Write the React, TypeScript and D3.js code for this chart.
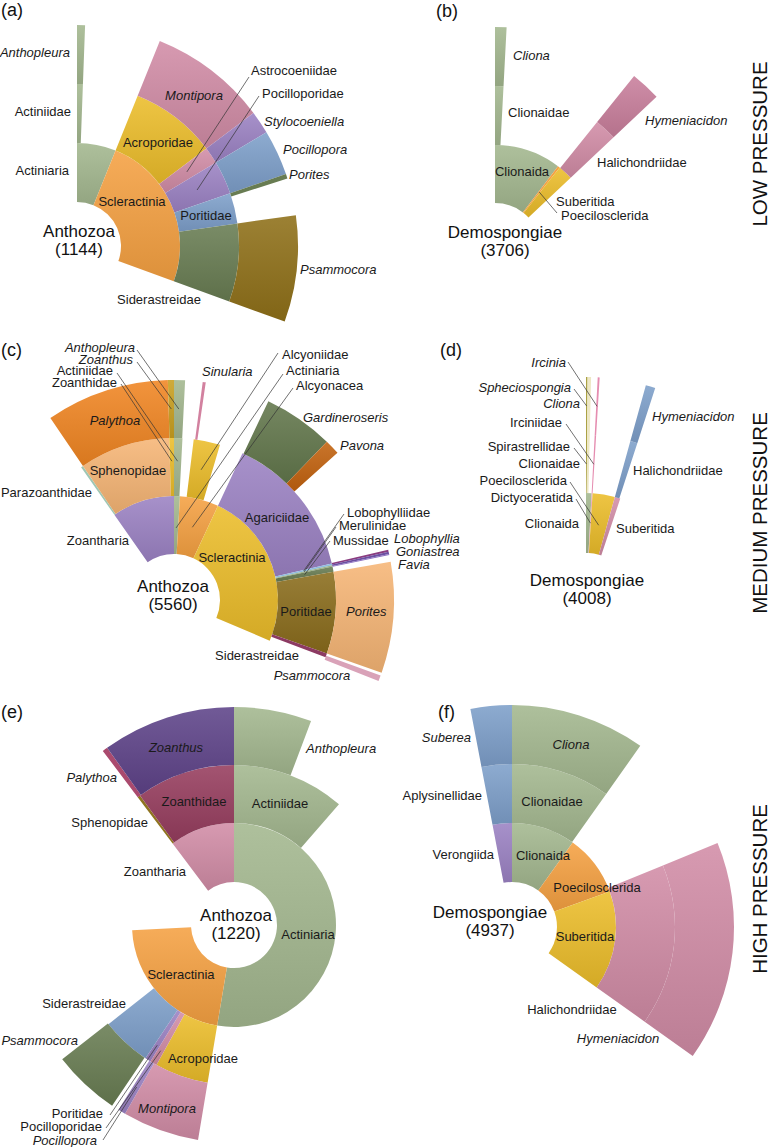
import React from "react";
import * as d3 from "d3";

type Entry = [string, number];

// Values: angular share of each taxon (degrees of sweep).
// Blank names are unclassified remainders (not drawn).

// (a) LOW PRESSURE – Anthozoa
const aRoot: [string, number] = ["Anthozoa", 1144];
const aOrders: Entry[] = [["Actiniaria", 22], ["Scleractinia", 88]];
const aFamilies: Entry[] = [["Actiniidae", 2.1], ["", 19.9], ["Acroporidae", 31], ["Astrocoeniidae", 6], ["Pocilloporidae", 12], ["Poritidae", 11], ["Siderastreidae", 28]];
const aGenera: Entry[] = [["Anthopleura", 2.1], ["", 19.9], ["Montipora", 31], ["Stylocoeniella", 6], ["Pocillopora", 12], ["Porites", 1.2], ["", 9.8], ["Psammocora", 28]];

// (b) LOW PRESSURE – Demospongiae
const bRoot: [string, number] = ["Demospongiae", 3706];
const bOrders: Entry[] = [["Clionaida", 37.3], ["Poecilosclerida", 1.2], ["Suberitida", 8.2]];
const bFamilies: Entry[] = [["Clionaidae", 3], ["", 35.8], ["Halichondriidae", 7.9]];
const bGenera: Entry[] = [["Cliona", 3], ["", 35.8], ["Hymeniacidon", 7.9]];

// (c) MEDIUM PRESSURE – Anthozoa
const cRoot: [string, number] = ["Anthozoa", 5560];
const cOrders: Entry[] = [["Zoantharia", 35], ["Actiniaria", 3.3], ["Alcyonacea", 21.7], ["Scleractinia", 88]];
const cFamilies: Entry[] = [["Parazoanthidae", 0.8], ["Sphenopidae", 32.5], ["Zoanthidae", 1.7], ["Actiniidae", 3], ["", 4], ["Alcyoniidae", 9.5], ["", 8.5], ["Agariciidae", 52], ["Lobophylliidae", 0.6], ["Merulinidae", 0.5], ["Mussidae", 1.9], ["Poritidae", 29.3], ["Siderastreidae", 1.4]];
const cGenera: Entry[] = [["", 0.8], ["Palythoa", 32.6], ["Zoanthus", 1.6], ["Anthopleura", 2.9], ["", 4.6], ["Sinularia", 0.8], ["", 17.1], ["Gardineroseris", 18.6], ["Pavona", 4], ["", 28.8], ["Lobophyllia", 0.5], ["Goniastrea", 0.6], ["Favia", 0.3], ["", 1.8], ["Porites", 29.3], ["", 0.8], ["Psammocora", 1.5]];

// (d) MEDIUM PRESSURE – Demospongiae
const dRoot: [string, number] = ["Demospongiae", 4008];
const dOrders: Entry[] = [["Clionaida", 3], ["Dictyoceratida", 0.5], ["Poecilosclerida", 12], ["Suberitida", 3]];
const dFamilies: Entry[] = [["Spirastrellidae", 0.4], ["Clionaidae", 0.9], ["", 1.7], ["Irciniidae", 0.5], ["", 12], ["Halichondriidae", 2.5]];
const dGenera: Entry[] = [["Spheciospongia", 0.4], ["Cliona", 0.9], ["", 1.7], ["Ircinia", 0.5], ["", 12], ["Hymeniacidon", 2.5]];

// (e) HIGH PRESSURE – Anthozoa
const eRoot: [string, number] = ["Anthozoa", 1220];
const eOrders: Entry[] = [["Zoantharia", 37], ["Actiniaria", 189.5], ["Scleractinia", 77.5]];
const eFamilies: Entry[] = [["Sphenopidae", 1], ["Zoanthidae", 36], ["Actiniidae", 41], ["", 148.5], ["Acroporidae", 19.5], ["Pocilloporidae", 2.5], ["Poritidae", 2.1], ["Siderastreidae", 18.1]];
const eGenera: Entry[] = [["Palythoa", 1.4], ["Zoanthus", 35.6], ["Anthopleura", 20.7], ["", 168.8], ["Montipora", 20.5], ["Pocillopora", 2], ["", 2], ["Psammocora", 18]];

// (f) HIGH PRESSURE – Demospongiae
const fRoot: [string, number] = ["Demospongiae", 4937];
const fOrders: Entry[] = [["Verongiida", 10.8], ["Clionaida", 35.7], ["Poecilosclerida", 34.3], ["Suberitida", 55.5]];
const fFamilies: Entry[] = [["Aplysinellidae", 10.8], ["Clionaidae", 35.3], ["", 32.5], ["Halichondriidae", 57.7]];
const fGenera: Entry[] = [["Suberea", 10.8], ["Cliona", 35.3], ["", 32.5], ["Hymeniacidon", 57.7]];

const pressureLabels = ["LOW PRESSURE", "MEDIUM PRESSURE", "HIGH PRESSURE"];

// ---------------- styles / layout ----------------
const GREEN = "#a3b78f", ORANGE = "#f5a142", YELLOW = "#ecbd2a", PINK = "#d18ca6",
  PURPLE = "#9b82c3", BLUE = "#7e9fca", DKGREEN = "#687c52", BROWN = "#8f7018";

const FONT = "'Liberation Sans', Arial, Helvetica, sans-serif";

type Lab = { t: string; x: number; y: number; a: "start" | "middle" | "end"; lx?: number; ly?: number; f?: number };

const panels = [
  {
    id: "a", tag: "(a)", tagX: 1, tagY: 10, cx: 77, cy: 246, radii: [44, 103, 162, 221], start: 0,
    root: aRoot, rings: [aOrders, aFamilies, aGenera], rootPos: [79, 231],
    colors: { Actiniaria: GREEN, Scleractinia: ORANGE, Actiniidae: GREEN, Acroporidae: YELLOW, Astrocoeniidae: PINK, Pocilloporidae: PURPLE, Poritidae: BLUE, Siderastreidae: DKGREEN, Anthopleura: GREEN, Montipora: PINK, Stylocoeniella: PURPLE, Pocillopora: BLUE, Porites: DKGREEN, Psammocora: BROWN } as Record<string, string>,
    labels: [
      { t: "Anthopleura", x: 70, y: 52, a: "end" }, { t: "Actiniidae", x: 71, y: 111, a: "end" },
      { t: "Actiniaria", x: 69, y: 170, a: "end" }, { t: "Montipora", x: 194, y: 95, a: "middle" },
      { t: "Acroporidae", x: 158, y: 142, a: "middle" }, { t: "Scleractinia", x: 132, y: 201, a: "middle" },
      { t: "Astrocoeniidae", x: 251, y: 70, a: "start", lx: 249, ly: 77, f: 0.5 },
      { t: "Pocilloporidae", x: 262, y: 93, a: "start", lx: 259, ly: 96, f: 0.5 },
      { t: "Stylocoeniella", x: 264, y: 121, a: "start" }, { t: "Pocillopora", x: 283, y: 149, a: "start" },
      { t: "Porites", x: 289, y: 174, a: "start" }, { t: "Poritidae", x: 206, y: 215, a: "middle" },
      { t: "Psammocora", x: 300, y: 269, a: "start" }, { t: "Siderastreidae", x: 159, y: 299, a: "middle" },
    ] as Lab[],
  },
  {
    id: "b", tag: "(b)", tagX: 436, tagY: 11, cx: 495, cy: 249, radii: [46, 104, 163, 222], start: 0,
    root: bRoot, rings: [bOrders, bFamilies, bGenera], rootPos: [505, 232],
    colors: { Clionaida: GREEN, Poecilosclerida: ORANGE, Suberitida: YELLOW, Clionaidae: GREEN, Halichondriidae: PINK, Cliona: GREEN, Hymeniacidon: "#c97f9c" } as Record<string, string>,
    labels: [
      { t: "Cliona", x: 513, y: 55, a: "start" }, { t: "Clionaidae", x: 508, y: 112, a: "start" },
      { t: "Hymeniacidon", x: 645, y: 120, a: "start" }, { t: "Halichondriidae", x: 597, y: 162, a: "start" },
      { t: "Clionaida", x: 522, y: 171, a: "middle" }, { t: "Suberitida", x: 556, y: 201, a: "start" },
      { t: "Poecilosclerida", x: 561, y: 215, a: "start", lx: 557, ly: 213, f: 0.45 },
    ] as Lab[],
  },
  {
    id: "c", tag: "(c)", tagX: 1, tagY: 350, cx: 174, cy: 600, radii: [46, 104, 162, 220], start: -35,
    root: cRoot, rings: [cOrders, cFamilies, cGenera], rootPos: [173, 586],
    colors: { Zoantharia: PURPLE, Actiniaria: GREEN, Alcyonacea: ORANGE, Scleractinia: YELLOW, Parazoanthidae: "#9fc7b4", Sphenopidae: "#f6b575", Zoanthidae: YELLOW, Actiniidae: GREEN, Alcyoniidae: YELLOW, Agariciidae: PURPLE, Lobophylliidae: "#8fbbe0", Merulinidae: "#9cb58a", Mussidae: DKGREEN, Poritidae: "#8a6c1c", Siderastreidae: "#8c3a62", Palythoa: "#f08522", Zoanthus: "#c9a020", Anthopleura: GREEN, Sinularia: "#d2819f", Gardineroseris: "#62774c", Pavona: "#c2620e", Lobophyllia: "#8a3c80", Goniastrea: "#6c50a2", Favia: "#8b6fc0", Porites: "#f6b575", Psammocora: "#d9a2b8" } as Record<string, string>,
    labels: [
      { t: "Anthopleura", x: 135, y: 347, a: "end", lx: 137, ly: 350, f: 0.5 },
      { t: "Zoanthus", x: 133, y: 359.5, a: "end", lx: 137, ly: 362, f: 0.5 },
      { t: "Actiniidae", x: 113, y: 370, a: "end", lx: 117, ly: 373, f: 0.6 },
      { t: "Zoanthidae", x: 117, y: 382, a: "end", lx: 121, ly: 384, f: 0.6 },
      { t: "Sinularia", x: 202, y: 371, a: "start" },
      { t: "Alcyoniidae", x: 282, y: 354, a: "start", lx: 278, ly: 353, f: 0.5 },
      { t: "Actiniaria", x: 286, y: 370, a: "start", lx: 283, ly: 374, f: 0.45 },
      { t: "Alcyonacea", x: 296, y: 385, a: "start", lx: 293, ly: 388, f: 0.5 },
      { t: "Gardineroseris", x: 303, y: 417, a: "start" }, { t: "Pavona", x: 340, y: 445, a: "start" },
      { t: "Palythoa", x: 115, y: 420, a: "middle" }, { t: "Sphenopidae", x: 128, y: 470, a: "middle" },
      { t: "Parazoanthidae", x: 92, y: 492, a: "end" }, { t: "Zoantharia", x: 129, y: 540, a: "end" },
      { t: "Agariciidae", x: 277, y: 517, a: "middle" }, { t: "Scleractinia", x: 232, y: 557, a: "middle" },
      { t: "Lobophylliidae", x: 347, y: 512, a: "start", lx: 344, ly: 514, f: 0.5 },
      { t: "Merulinidae", x: 339, y: 525.5, a: "start", lx: 336, ly: 527, f: 0.5 },
      { t: "Mussidae", x: 333, y: 540, a: "start", lx: 330, ly: 541, f: 0.5 },
      { t: "Lobophyllia", x: 394, y: 538, a: "start" }, { t: "Goniastrea", x: 396, y: 551, a: "start" },
      { t: "Favia", x: 398, y: 564, a: "start" }, { t: "Poritidae", x: 306, y: 611, a: "middle" },
      { t: "Porites", x: 346, y: 611, a: "start" }, { t: "Siderastreidae", x: 257, y: 655, a: "middle" },
      { t: "Psammocora", x: 312, y: 675, a: "middle" },
    ] as Lab[],
  },
  {
    id: "d", tag: "(d)", tagX: 440, tagY: 350, cx: 586, cy: 601, radii: [48, 108, 166, 224], start: 0,
    root: dRoot, rings: [dOrders, dFamilies, dGenera], rootPos: [587, 580],
    colors: { Clionaida: GREEN, Dictyoceratida: "#e7a3bb", Poecilosclerida: YELLOW, Suberitida: PINK, Spirastrellidae: "#aba245", Clionaidae: "#ede7c4", Irciniidae: "#e58db0", Halichondriidae: BLUE, Spheciospongia: "#aba245", Cliona: "#ede7c4", Ircinia: "#e58db0", Hymeniacidon: BLUE } as Record<string, string>,
    labels: [
      { t: "Ircinia", x: 566, y: 362, a: "end", lx: 568, ly: 362, f: 0.5 },
      { t: "Spheciospongia", x: 571, y: 387, a: "end", lx: 574, ly: 389, f: 0.5 },
      { t: "Cliona", x: 580, y: 403, a: "end" },
      { t: "Irciniidae", x: 562, y: 422, a: "end", lx: 566, ly: 424, f: 0.5 },
      { t: "Spirastrellidae", x: 570, y: 446, a: "end", lx: 574, ly: 448, f: 0.5 },
      { t: "Clionaidae", x: 580, y: 463, a: "end" },
      { t: "Poecilosclerida", x: 567, y: 480, a: "end", lx: 570, ly: 482, f: 0.48 },
      { t: "Dictyoceratida", x: 573, y: 497, a: "end", lx: 576, ly: 499, f: 0.5 },
      { t: "Clionaida", x: 579, y: 523, a: "end" },
      { t: "Hymeniacidon", x: 652, y: 416, a: "start" }, { t: "Halichondriidae", x: 633, y: 470, a: "start" },
      { t: "Suberitida", x: 616, y: 528, a: "start" },
    ] as Lab[],
  },
  {
    id: "e", tag: "(e)", tagX: 1, tagY: 712, cx: 234, cy: 925, radii: [43, 102, 160, 218], start: -37,
    root: eRoot, rings: [eOrders, eFamilies, eGenera], rootPos: [236, 915],
    colors: { Zoantharia: PINK, Actiniaria: GREEN, Scleractinia: ORANGE, Sphenopidae: "#8f7420", Zoanthidae: "#963d5e", Actiniidae: GREEN, Acroporidae: YELLOW, Pocilloporidae: PINK, Poritidae: PURPLE, Siderastreidae: BLUE, Palythoa: "#aa4a6e", Zoanthus: "#5e4389", Anthopleura: GREEN, Montipora: PINK, Pocillopora: PURPLE, Psammocora: DKGREEN } as Record<string, string>,
    labels: [
      { t: "Zoanthus", x: 176, y: 747, a: "middle" }, { t: "Anthopleura", x: 306, y: 748, a: "start" },
      { t: "Palythoa", x: 117, y: 777, a: "end" }, { t: "Zoanthidae", x: 194, y: 801, a: "middle" },
      { t: "Actiniidae", x: 280, y: 803, a: "middle" }, { t: "Sphenopidae", x: 148, y: 822, a: "end" },
      { t: "Zoantharia", x: 186, y: 871, a: "end" }, { t: "Actiniaria", x: 308, y: 934, a: "middle" },
      { t: "Scleractinia", x: 181, y: 974, a: "middle" }, { t: "Siderastreidae", x: 126, y: 1003, a: "end" },
      { t: "Psammocora", x: 78, y: 1040, a: "end" }, { t: "Acroporidae", x: 203, y: 1058, a: "middle" },
      { t: "Montipora", x: 167, y: 1108, a: "middle" },
      { t: "Poritidae", x: 103, y: 1113, a: "end", lx: 110, ly: 1115, f: 0.7 },
      { t: "Pocilloporidae", x: 102, y: 1126.5, a: "end", lx: 106, ly: 1128, f: 0.75 },
      { t: "Pocillopora", x: 97, y: 1140, a: "end", lx: 103, ly: 1140, f: 0.5 },
    ] as Lab[],
  },
  {
    id: "f", tag: "(f)", tagX: 438, tagY: 712, cx: 512, cy: 927, radii: [45, 104, 163, 222], start: -10.8,
    root: fRoot, rings: [fOrders, fFamilies, fGenera], rootPos: [490, 912],
    colors: { Verongiida: PURPLE, Clionaida: GREEN, Poecilosclerida: ORANGE, Suberitida: YELLOW, Aplysinellidae: BLUE, Clionaidae: GREEN, Halichondriidae: PINK, Suberea: BLUE, Cliona: GREEN, Hymeniacidon: PINK } as Record<string, string>,
    labels: [
      { t: "Suberea", x: 471, y: 737, a: "end" }, { t: "Cliona", x: 571, y: 744, a: "middle" },
      { t: "Aplysinellidae", x: 482, y: 795, a: "end" }, { t: "Clionaidae", x: 552, y: 801, a: "middle" },
      { t: "Verongiida", x: 494, y: 854, a: "end" }, { t: "Clionaida", x: 543, y: 855, a: "middle" },
      { t: "Poecilosclerida", x: 597, y: 887, a: "middle" }, { t: "Suberitida", x: 585, y: 936, a: "middle" },
      { t: "Halichondriidae", x: 572, y: 1009, a: "middle" }, { t: "Hymeniacidon", x: 618, y: 1038, a: "middle" },
    ] as Lab[],
  },
];

const pressurePos = [144, 513, 889];

const gradId = (c: string) => "g" + c.replace("#", "");

function Panel({ p }: { p: (typeof panels)[number] }) {
  const ang = d3.scaleLinear().domain([0, 360]).range([0, 2 * Math.PI]);
  const rad = d3.scaleLinear().domain([0, 1, 2, 3]).range(p.radii);
  const arc = d3.arc<any>();
  type W = { name: string; depth: number; a0: number; a1: number };
  const wedges: W[] = [];
  p.rings.forEach((ring, depth) => {
    let a0 = p.start;
    ring.forEach(([name, v]) => {
      const a1 = a0 + v;
      if (name) wedges.push({ name, depth, a0, a1 });
      a0 = a1;
    });
  });
  const byName = new Map(wedges.map((w) => [w.name, w]));
  const polar = (deg: number, r: number) => [p.cx + r * Math.sin(ang(deg)), p.cy - r * Math.cos(ang(deg))];

  return (
    <g>
      <g transform={`translate(${p.cx},${p.cy})`}>
        {wedges.map((w) => {
          const c = p.colors[w.name] || "#999";
          const thin = w.a1 - w.a0 < 1.6;
          return (
            <path
              key={w.depth + w.name}
              d={arc({ innerRadius: rad(w.depth), outerRadius: rad(w.depth + 1), startAngle: ang(w.a0), endAngle: ang(w.a1) }) || ""}
              fill={thin ? c : `url(#${gradId(c)})`}
            />
          );
        })}
      </g>
      {p.labels.map((l) => {
        if (l.lx === undefined) return null;
        const w = byName.get(l.t);
        if (!w) return null;
        const [x2, y2] = polar((w.a0 + w.a1) / 2, rad(w.depth + (l.f ?? 0.5)));
        return <line key={"l" + l.t} x1={l.lx} y1={l.ly} x2={x2} y2={y2} stroke="#333" strokeWidth={0.7} />;
      })}
      {p.labels.map((l) => {
        const w = byName.get(l.t);
        const italic = w ? w.depth === 2 : false;
        return (
          <text key={"t" + l.t} x={l.x} y={l.y} textAnchor={l.a} dominantBaseline="central" fontSize={13}
            fontStyle={italic ? "italic" : "normal"} fill="#1a1a1a">{l.t}</text>
        );
      })}
      <text x={p.rootPos[0]} y={p.rootPos[1]} textAnchor="middle" dominantBaseline="central" fontSize={17} fill="#111">{p.root[0]}</text>
      <text x={p.rootPos[0]} y={p.rootPos[1] + 18} textAnchor="middle" dominantBaseline="central" fontSize={17} fill="#111">({p.root[1]})</text>
      <text x={p.tagX} y={p.tagY} dominantBaseline="central" fontSize={18} fill="#111">{p.tag}</text>
    </g>
  );
}

export default function App() {
  const allColors = Array.from(new Set(panels.flatMap((p) => Object.values(p.colors))));
  return (
    <svg width={769} height={1147} viewBox="0 0 769 1147" fontFamily={FONT}
      style={{ position: "absolute", left: 0, top: 0, background: "#fff" }}>
      <defs>
        {allColors.map((c) => (
          <linearGradient key={c} id={gradId(c)} x1="0" y1="0" x2="0" y2="1">
            <stop offset="0%" stopColor={d3.interpolateRgb(c, "#ffffff")(0.12)} />
            <stop offset="100%" stopColor={d3.interpolateRgb(c, "#000000")(0.1)} />
          </linearGradient>
        ))}
      </defs>
      <rect x={0} y={0} width={769} height={1147} fill="#fff" />
      {panels.map((p) => <Panel key={p.id} p={p} />)}
      {pressureLabels.map((t, i) => (
        <text key={t} transform={`translate(759,${pressurePos[i]}) rotate(-90)`} textAnchor="middle"
          dominantBaseline="central" fontSize={20.5} fill="#111">{t}</text>
      ))}
    </svg>
  );
}
